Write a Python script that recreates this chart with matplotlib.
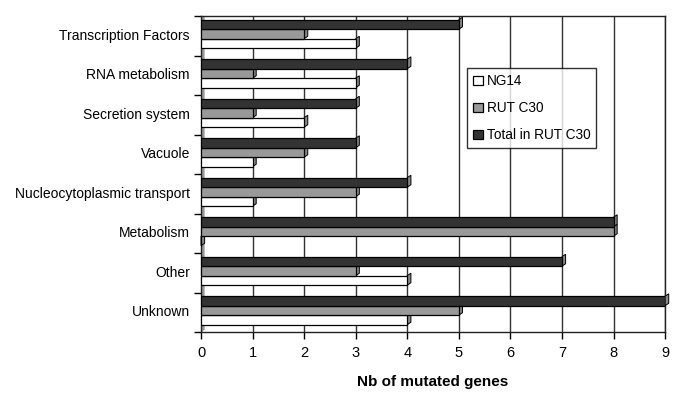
import matplotlib
matplotlib.use("Agg")
import matplotlib.pyplot as plt
from matplotlib.patches import Polygon
import numpy as np

plt.rcParams['font.family'] = ['Liberation Sans', 'DejaVu Sans']

categories = ["Unknown", "Other", "Metabolism", "Nucleocytoplasmic transport",
              "Vacuole", "Secretion system", "RNA metabolism", "Transcription Factors"]
ng14 = [4, 4, 0, 1, 1, 2, 3, 3]
rut_c30 = [5, 3, 8, 3, 2, 1, 1, 2]
total_rut_c30 = [9, 7, 8, 4, 3, 3, 4, 5]
x_ticks = list(range(0, 10))

series = [
    ("NG14", ng14, "#ffffff", -0.19),
    ("RUT C30", rut_c30, "#999999", 0.05),
    ("Total in RUT C30", total_rut_c30, "#333333", 0.29),
]
bar_h = 0.24
dx, dy = 0.07, 0.06

fig = plt.figure(figsize=(6.78, 3.93), dpi=100)
ax = fig.add_axes([0.2965, 0.155, 0.6845, 0.804])

y = np.arange(len(categories))

# back wall shading on left
ax.add_patch(Polygon([[0, -0.5], [dx, -0.5 + dy], [dx, 7.5], [0, 7.5]],
                     closed=True, facecolor="#999999", edgecolor="none", zorder=1))

handles = []
for name, vals, col, off in series:
    bars = ax.barh(y + off, vals, height=bar_h, color=col, edgecolor="black",
                   linewidth=0.9, zorder=3, label=name)
    handles.append(bars)
    for yi, v in zip(y + off, vals):
        side = [[v, yi - bar_h / 2], [v + dx, yi - bar_h / 2 + dy],
                [v + dx, yi + bar_h / 2 + dy], [v, yi + bar_h / 2]]
        ax.add_patch(Polygon(side, closed=True, facecolor="#888888",
                             edgecolor="black", linewidth=0.7, zorder=2.9,
                             clip_on=False))

ax.set_xlim(0, 9)
ax.set_ylim(-0.5, 7.5)
ax.set_xticks(x_ticks)
ax.set_xticklabels([str(t) for t in x_ticks], fontsize=10.5)
ax.set_yticks(y)
ax.set_yticklabels(categories, fontsize=10, va="bottom")
for lbl in ax.get_yticklabels():
    lbl.set_verticalalignment("center")
ax.set_yticks(np.arange(-0.5, 8, 1), minor=True)
ax.tick_params(axis="y", which="major", length=0, pad=8)
ax.tick_params(axis="y", which="minor", length=5, width=1, direction="out")
ax.tick_params(axis="x", which="major", length=5, width=1, direction="out", pad=5)

ax.grid(axis="x", color="#333333", linewidth=1.0, zorder=0)
ax.set_axisbelow(True)
for s in ax.spines.values():
    s.set_color("#222222")
    s.set_linewidth(1.0)

ax.set_xlabel("Nb of mutated genes", fontsize=11, fontweight="bold", labelpad=11)

leg = ax.legend(handles=handles, loc="upper left", bbox_to_anchor=(0.573, 0.835),
                frameon=True, fancybox=False, edgecolor="black", fontsize=9.8,
                handlelength=0.7, handleheight=0.7, handletextpad=0.3,
                labelspacing=0.95, borderpad=0.45, borderaxespad=0)
leg.get_frame().set_linewidth(1.0)

fig.savefig("out.png", dpi=100)
